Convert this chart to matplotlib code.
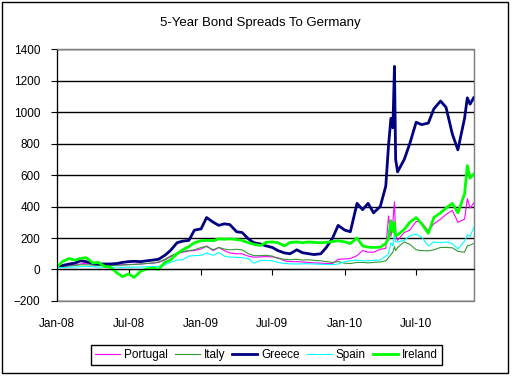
import numpy as np
import pandas as pd
import matplotlib
matplotlib.use("Agg")
import matplotlib.pyplot as plt
import matplotlib.dates as mdates
from matplotlib.patches import Rectangle

# =====================================================
# DATA (spreads in basis points)
# =====================================================

dates = [
    "2008-01-01", "2008-01-15", "2008-02-01", "2008-02-15", "2008-03-01", "2008-03-15",
    "2008-04-01", "2008-04-15", "2008-05-01", "2008-05-15", "2008-06-01", "2008-06-15",
    "2008-07-01", "2008-07-15", "2008-08-01", "2008-08-15", "2008-09-01", "2008-09-15",
    "2008-10-01", "2008-10-15", "2008-11-01", "2008-11-15", "2008-12-01", "2008-12-15",
    "2009-01-01", "2009-01-15", "2009-02-01", "2009-02-15", "2009-03-01", "2009-03-15",
    "2009-04-01", "2009-04-15", "2009-05-01", "2009-05-15", "2009-06-01", "2009-06-15",
    "2009-07-01", "2009-07-15", "2009-08-01", "2009-08-15", "2009-09-01", "2009-09-15",
    "2009-10-01", "2009-10-15", "2009-11-01", "2009-11-15", "2009-12-01", "2009-12-15",
    "2010-01-01", "2010-01-15", "2010-02-01", "2010-02-15", "2010-03-01", "2010-03-15",
    "2010-04-01", "2010-04-15", "2010-04-22", "2010-04-28", "2010-05-03", "2010-05-07",
    "2010-05-10", "2010-05-15", "2010-06-01", "2010-06-15", "2010-07-01", "2010-07-15",
    "2010-08-01", "2010-08-15", "2010-09-01", "2010-09-15", "2010-10-01", "2010-10-15",
    "2010-11-01", "2010-11-08", "2010-11-15", "2010-11-24",
]

portugal = [
    15, 20, 25, 28, 35, 40, 30, 28, 28, 27, 30, 30,
    32, 33, 35, 38, 40, 45, 60, 80, 100, 110, 118, 120,
    130, 150, 120, 140, 120, 105, 100, 100, 85, 78, 80, 82,
    80, 75, 55, 50, 50, 48, 45, 42, 40, 38, 38, 65,
    67, 70, 88, 120, 110, 110, 128, 135, 340, 210, 300, 430,
    220, 185, 235, 250, 305, 300, 245, 290, 320, 350, 375, 300,
    320, 450, 390, 420,
]

italy = [
    15, 20, 22, 25, 30, 30, 28, 25, 25, 25, 27, 28,
    30, 32, 35, 38, 42, 48, 65, 85, 105, 115, 120, 125,
    140, 145, 125, 140, 130, 125, 128, 125, 100, 88, 88, 90,
    85, 70, 65, 62, 65, 60, 62, 58, 55, 50, 45, 50,
    40, 38, 45, 45, 42, 45, 48, 55, 75, 95, 110, 145,
    120, 140, 175, 160, 125, 120, 118, 125, 140, 140, 138, 115,
    110, 150, 155, 165,
]

greece = [
    20, 25, 35, 40, 55, 50, 40, 35, 35, 35, 38, 45,
    50, 52, 50, 55, 60, 65, 90, 120, 170, 180, 185, 250,
    258, 330, 300, 280, 290, 285, 240, 235, 195, 170, 162, 150,
    140, 120, 105, 100, 125, 107, 100, 95, 100, 140, 200, 280,
    250, 240, 420, 380, 420, 360, 400, 530, 790, 960, 900, 1290,
    700, 620, 700, 800, 935, 920, 930, 1020, 1070, 1030, 860, 760,
    960, 1090, 1050, 1090,
]

spain = [
    10, 12, 15, 15, 18, 20, 18, 15, 15, 14, 15, 14,
    15, 15, 16, 17, 18, 20, 30, 45, 60, 62, 85, 88,
    90, 105, 90, 108, 85, 78, 78, 75, 70, 40, 57, 58,
    55, 45, 38, 36, 35, 36, 37, 35, 33, 32, 30, 35,
    50, 55, 60, 55, 55, 58, 60, 85, 100, 170, 150, 235,
    175, 175, 185, 215, 225, 205, 150, 175, 170, 175, 165, 130,
    180, 220, 210, 265,
]

ireland = [
    15, 50, 70, 60, 70, 75, 42, 45, 20, 15, -20, -45,
    -28, -50, -10, 3, 10, 0, 45, 60, 100, 125, 145, 170,
    183, 185, 183, 195, 192, 195, 190, 185, 170, 160, 152, 173,
    175, 170, 150, 172, 175, 170, 175, 172, 170, 172, 178, 183,
    175, 165, 200, 150, 142, 140, 142, 165, 200, 310, 240, 300,
    215, 220, 255, 300, 330, 290, 230, 330, 360, 390, 420, 360,
    480, 660, 580, 605,
]

countries = ["Portugal", "Italy", "Greece", "Spain", "Ireland"]
colors = ["#FF00FF", "#339933", "#000080", "#00FFFF", "#00FF00"]
widths = [0.8, 0.8, 2.0, 0.8, 2.0]

df = pd.DataFrame({
    "Date": pd.to_datetime(dates),
    "Portugal": portugal,
    "Italy": italy,
    "Greece": greece,
    "Spain": spain,
    "Ireland": ireland,
})

# =====================================================
# LINE CHART - BOND SPREADS
# =====================================================

plt.rcParams["font.family"] = ["Liberation Sans", "DejaVu Sans"]

fig = plt.figure(figsize=(5.13, 3.76), dpi=100)
ax = fig.add_axes([0.111, 0.1995, 0.813, 0.670])

for name, col, lw in zip(countries, colors, widths):
    ax.plot(df["Date"], df[name], color=col, linewidth=lw, label=name)

ax.set_ylim(-200, 1400)
ax.set_yticks(np.arange(-200, 1401, 200))
ax.set_xlim(pd.Timestamp("2008-01-01"), pd.Timestamp("2010-11-25"))

ax.xaxis.set_major_locator(mdates.MonthLocator(bymonth=[1, 7]))
ax.xaxis.set_major_formatter(mdates.DateFormatter("%b-%y"))

ax.yaxis.grid(True, color="black", linewidth=1)
ax.set_axisbelow(True)

for side in ["top", "right"]:
    ax.spines[side].set_color("#808080")
ax.spines["left"].set_color("black")
ax.spines["bottom"].set_position(("data", 0))
ax.spines["bottom"].set_color("black")

# gray bottom border of the plot area
ax.add_patch(Rectangle((0, 0), 1, 1, transform=ax.transAxes, fill=False,
                       edgecolor="#808080", linewidth=1, clip_on=False, zorder=0.5))

ax.tick_params(axis="y", direction="out", length=4, labelsize=8.5, pad=8)
ax.tick_params(axis="x", direction="out", length=4, labelsize=8.5, pad=31)

fig.text(0.508, 0.938, "5-Year Bond Spreads To Germany", ha="center", va="center",
         fontsize=9.5)

fig.legend(loc="center", bbox_to_anchor=(0.519, 0.056), ncol=5, fontsize=8.5,
           frameon=True, fancybox=False, edgecolor="black", framealpha=1,
           handlelength=2.1, handletextpad=0.35, columnspacing=0.6,
           borderpad=0.35)

fig.patches.append(Rectangle((0.004, 0.008), 0.986, 0.987, transform=fig.transFigure,
                             fill=False, edgecolor="black", linewidth=1))

plt.savefig("out.png", dpi=100)
